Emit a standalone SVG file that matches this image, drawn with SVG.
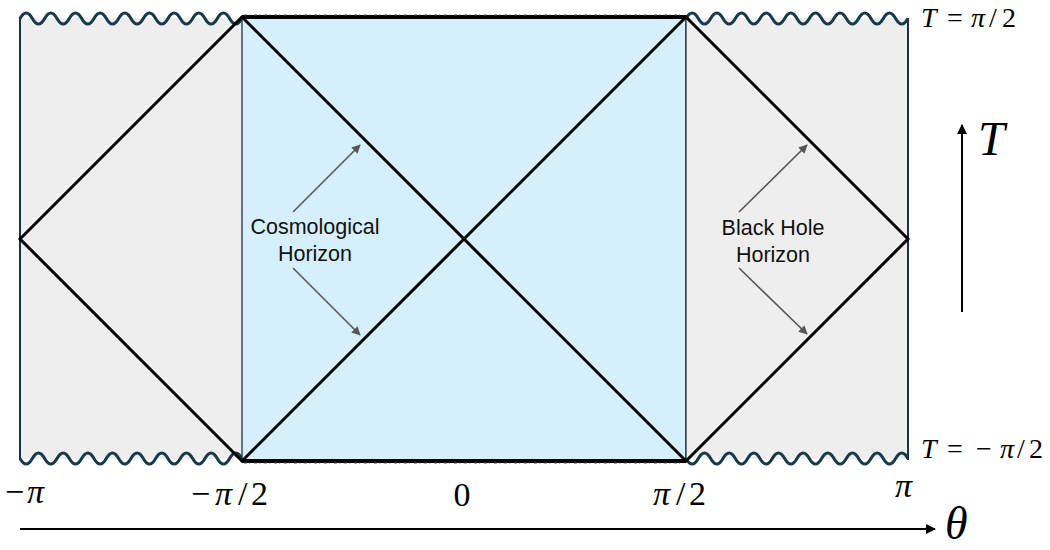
<svg xmlns="http://www.w3.org/2000/svg" width="1050" height="550" viewBox="0 0 1050 550">
<defs>
<marker id="ah" viewBox="0 0 10 10" refX="9" refY="5" markerWidth="5.5" markerHeight="5.5" orient="auto"><path d="M0,0 L10,5 L0,10 z" fill="#555"/></marker>
<marker id="axh" viewBox="0 0 10 10" refX="9" refY="5" markerWidth="5" markerHeight="5" orient="auto"><path d="M0,0 L10,5 L0,10 z" fill="#000"/></marker>
<style>
.gray{fill:#eeeeee;stroke:none}
.blue{fill:#d5f0fc;stroke:none}
.edge{stroke:#1b3340;stroke-width:2;fill:none}
.thin{stroke:#1b3340;stroke-width:1.3;fill:none}
.wave{stroke:#163a4a;stroke-width:3;fill:none;stroke-linejoin:round}
.sing{stroke:#000;stroke-width:4;fill:none}
.null{stroke:#000;stroke-width:3;fill:none;stroke-linecap:round}
.lbl{font-family:"Liberation Sans",Arial,sans-serif;font-size:21.5px;fill:#111;text-anchor:middle}
.math{font-family:"Liberation Serif","Times New Roman",serif;fill:#000}
.it{font-style:italic}
.harr{stroke:#555;stroke-width:1.6;fill:none;marker-end:url(#ah)}
.axis{stroke:#000;stroke-width:2;fill:none;marker-end:url(#axh)}
</style>
</defs>
<rect width="1050" height="550" fill="#fff"/>
<g id="region-left">
<rect class="gray" x="20" y="18" width="222" height="441"/>
<line class="edge" x1="20" y1="18" x2="20" y2="460"/>
<path class="wave" d="M20,18.5 q6.17,-11 12.33,0 t12.33,0 t12.33,0 t12.33,0 t12.33,0 t12.33,0 t12.33,0 t12.33,0 t12.33,0 t12.33,0 t12.33,0 t12.33,0 t12.33,0 t12.33,0 t12.33,0 t12.33,0 t12.33,0 t12.33,0"/>
<path class="wave" d="M20,458.5 q6.17,11 12.33,0 t12.33,0 t12.33,0 t12.33,0 t12.33,0 t12.33,0 t12.33,0 t12.33,0 t12.33,0 t12.33,0 t12.33,0 t12.33,0 t12.33,0 t12.33,0 t12.33,0 t12.33,0 t12.33,0 t12.33,0"/>
</g>
<g id="region-center">
<rect class="blue" x="242" y="17" width="444" height="444"/>
<line class="thin" x1="242" y1="17" x2="242" y2="461"/>
<line class="thin" x1="686" y1="17" x2="686" y2="461"/>
<line class="sing" x1="242" y1="17" x2="686" y2="17"/>
<line class="sing" x1="242" y1="461" x2="686" y2="461"/>
<line stroke="#555" stroke-width="1" stroke-dasharray="3 2 1 4" x1="244" y1="15" x2="684" y2="15"/>
<line stroke="#555" stroke-width="1" stroke-dasharray="3 2 1 4" x1="244" y1="463" x2="684" y2="463"/>
</g>
<g id="region-right">
<rect class="gray" x="686" y="18" width="222" height="441"/>
<line class="thin" x1="686" y1="17" x2="686" y2="461"/>
<line class="edge" x1="908" y1="18" x2="908" y2="460"/>
<path class="wave" d="M686,18.5 q6.17,-11 12.33,0 t12.33,0 t12.33,0 t12.33,0 t12.33,0 t12.33,0 t12.33,0 t12.33,0 t12.33,0 t12.33,0 t12.33,0 t12.33,0 t12.33,0 t12.33,0 t12.33,0 t12.33,0 t12.33,0 t12.33,0"/>
<path class="wave" d="M686,458.5 q6.17,11 12.33,0 t12.33,0 t12.33,0 t12.33,0 t12.33,0 t12.33,0 t12.33,0 t12.33,0 t12.33,0 t12.33,0 t12.33,0 t12.33,0 t12.33,0 t12.33,0 t12.33,0 t12.33,0 t12.33,0 t12.33,0"/>
</g>
<g id="horizons">
<line class="null" x1="20" y1="239" x2="242" y2="17"/>
<line class="null" x1="20" y1="239" x2="242" y2="461"/>
<line class="null" x1="242" y1="17" x2="686" y2="461"/>
<line class="null" x1="242" y1="461" x2="686" y2="17"/>
<line class="null" x1="908" y1="239" x2="686" y2="17"/>
<line class="null" x1="908" y1="239" x2="686" y2="461"/>
</g>
<g id="label-cosmological">
<text class="lbl" x="315" y="234">Cosmological</text>
<text class="lbl" x="315" y="261">Horizon</text>
</g>
<g id="label-blackhole">
<text class="lbl" x="773" y="235">Black Hole</text>
<text class="lbl" x="773" y="262">Horizon</text>
</g>
<g id="connectors">
<line class="harr" x1="293" y1="212" x2="360" y2="145"/>
<line class="harr" x1="293" y1="268" x2="360" y2="335"/>
<line class="harr" x1="739" y1="212" x2="807" y2="145"/>
<line class="harr" x1="739" y1="268" x2="807" y2="334"/>
<line class="axis" x1="20" y1="529" x2="935" y2="529"/>
<line class="axis" x1="962" y1="312" x2="962" y2="125"/>
</g>
<g id="axis-labels" class="math">
<text font-size="28" y="27"><tspan x="921" class="it">T</tspan><tspan x="947">=</tspan><tspan x="971" class="it">π</tspan><tspan x="989">/</tspan><tspan x="1002">2</tspan></text>
<text font-size="28" y="458"><tspan x="921" class="it">T</tspan><tspan x="947">=</tspan><tspan x="976">−</tspan><tspan x="1000" class="it">π</tspan><tspan x="1017">/</tspan><tspan x="1029">2</tspan></text>
<text font-size="34" y="503"><tspan x="5">−</tspan><tspan x="27" class="it">π</tspan></text>
<text font-size="34" y="505"><tspan x="191">−</tspan><tspan x="215" class="it">π</tspan><tspan x="238">/</tspan><tspan x="251">2</tspan></text>
<text font-size="34" x="462" y="506" text-anchor="middle">0</text>
<text font-size="34" y="505"><tspan x="653" class="it">π</tspan><tspan x="676">/</tspan><tspan x="689">2</tspan></text>
<text font-size="34" y="497" x="895" class="it">π</text>
<text font-size="48" x="978" y="155" class="it">T</text>
<text font-size="46" x="945" y="539" class="it">θ</text>
</g>
</svg>
